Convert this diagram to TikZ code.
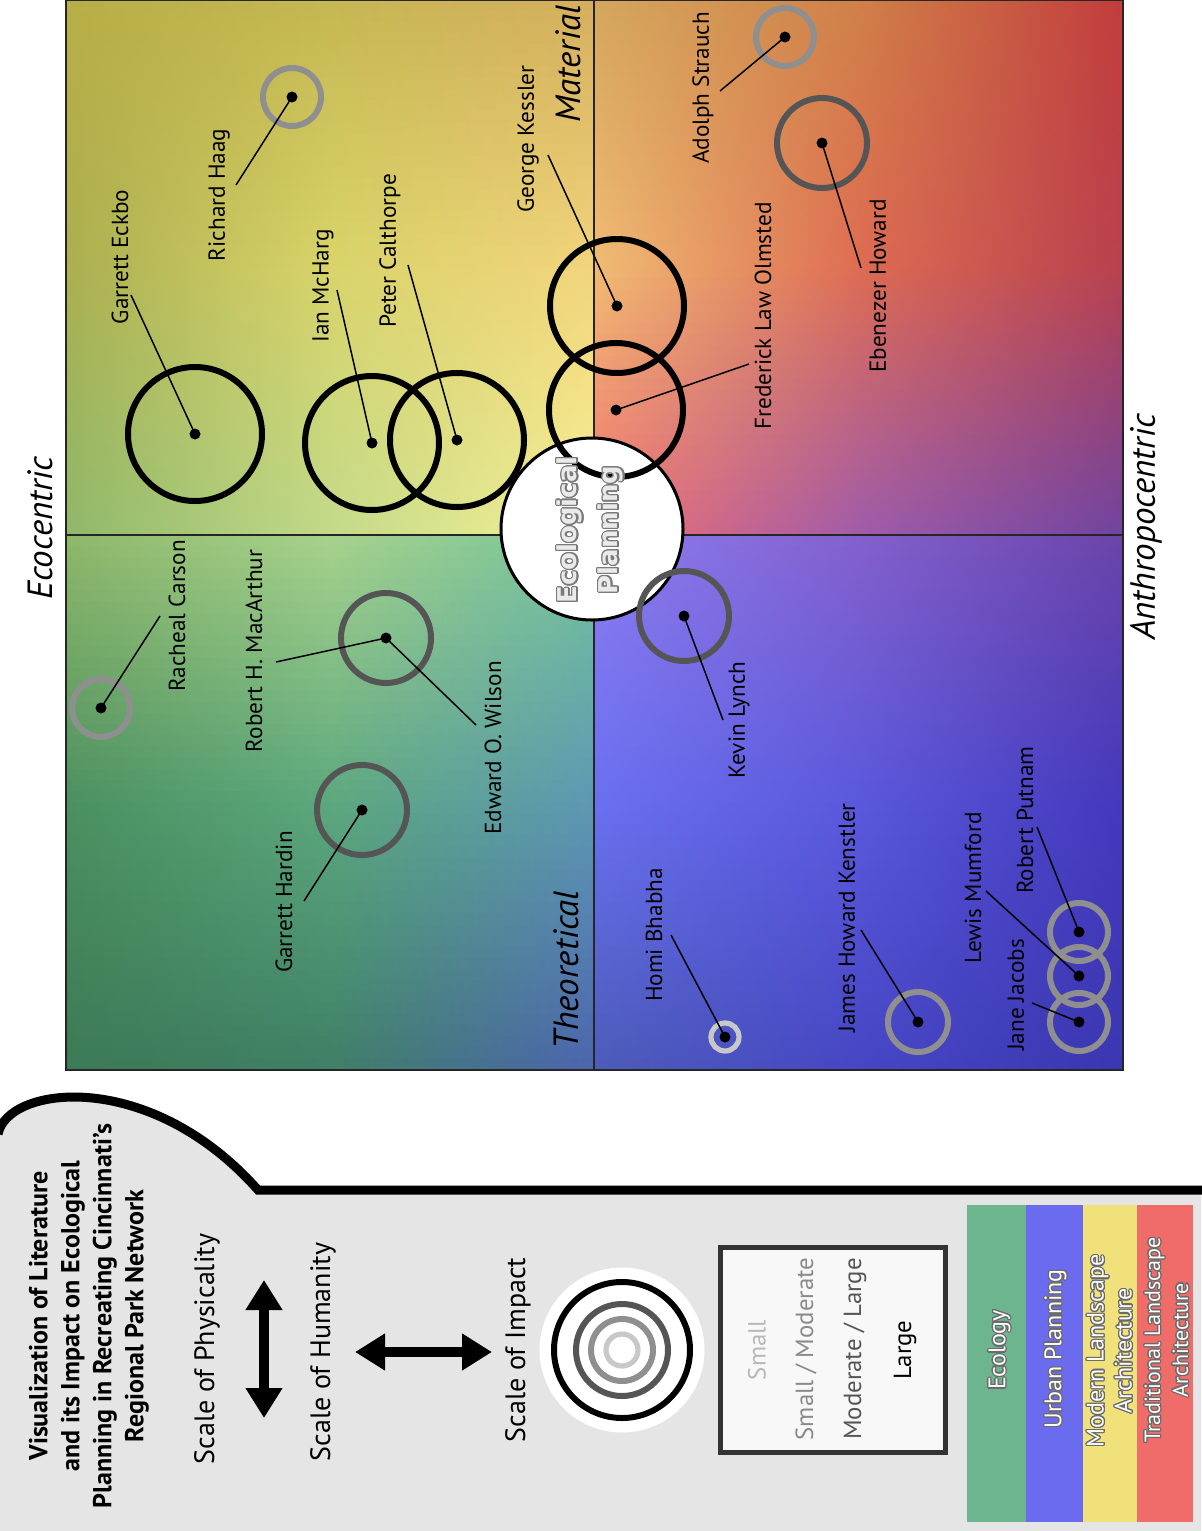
\documentclass[tikz,border=0pt]{standalone}
\usepackage{fontspec}
\setmainfont{PT Sans}
\newfontfamily\wideface{DejaVu Sans}
\usepackage{contour}
\contourlength{0.6pt}
\usetikzlibrary{arrows.meta}
% quadrant gradient control colours (rows a,b,c top->bottom; cols a,b,c left->right)
\definecolor{tlaa}{HTML}{B8AD46}\definecolor{tlab}{HTML}{C5B752}\definecolor{tlac}{HTML}{D6AE5E}
\definecolor{tlba}{HTML}{ABAF50}\definecolor{tlbb}{HTML}{D9D46A}\definecolor{tlbc}{HTML}{F2D47C}
\definecolor{tlca}{HTML}{8FB86A}\definecolor{tlcb}{HTML}{C2DA8A}\definecolor{tlcc}{HTML}{F8F296}
\definecolor{traa}{HTML}{D4A65C}\definecolor{trab}{HTML}{D08048}\definecolor{trac}{HTML}{C23C3C}
\definecolor{trba}{HTML}{F0BC74}\definecolor{trbb}{HTML}{DE6C52}\definecolor{trbc}{HTML}{B8404E}
\definecolor{trca}{HTML}{F27070}\definecolor{trcb}{HTML}{A05CAA}\definecolor{trcc}{HTML}{7044A0}
\definecolor{blaa}{HTML}{8FB86A}\definecolor{blab}{HTML}{A8D28C}\definecolor{blac}{HTML}{74C49C}
\definecolor{blba}{HTML}{4C9060}\definecolor{blbb}{HTML}{5CA87E}\definecolor{blbc}{HTML}{5E98B4}
\definecolor{blca}{HTML}{3C7A56}\definecolor{blcb}{HTML}{3F7F66}\definecolor{blcc}{HTML}{4C64B0}
\definecolor{braa}{HTML}{8C7CF0}\definecolor{brab}{HTML}{8460CC}\definecolor{brac}{HTML}{6A44A8}
\definecolor{brba}{HTML}{6A70F0}\definecolor{brbb}{HTML}{5A58DC}\definecolor{brbc}{HTML}{4438BC}
\definecolor{brca}{HTML}{4C5CB8}\definecolor{brcb}{HTML}{4646C4}\definecolor{brcc}{HTML}{3A36B0}
% other colours
\definecolor{ringml}{HTML}{555555}
\definecolor{ringsm}{HTML}{8F8F8F}
\definecolor{rings}{HTML}{C8C8C8}
\definecolor{panelgrey}{HTML}{E5E5E5}
\definecolor{boxfill}{HTML}{F8F8F8}
\definecolor{boxline}{HTML}{333333}
\definecolor{barEco}{HTML}{6DB58E}
\definecolor{barUrb}{HTML}{6B6BEF}
\definecolor{barMod}{HTML}{F0E17A}
\definecolor{barTra}{HTML}{F06C68}
\definecolor{ecotext}{HTML}{EAEAEA}
\definecolor{ecoline}{HTML}{7A7A7A}
\definecolor{barline}{HTML}{6A6A6A}
\definecolor{txtS}{HTML}{B8B8B8}
\definecolor{txtSM}{HTML}{8A8A8A}
\definecolor{txtML}{HTML}{555555}

\newcommand\quadfill[3]{%
  \foreach \ri/\rn/\rv in {a/b/0,b/c/1}{%
    \foreach \ci/\cn/\cv in {a/b/0,b/c/1}{%
      \foreach \k in {0,...,23}{%
        \pgfmathsetmacro\pw{100-(\k+0.5)*100/24}%
        \pgfmathsetmacro\xa{#1+\cv*264.25}%
        \pgfmathsetmacro\ya{#2+\rv*267.5+\k*267.5/24}%
        \shade[left color=#3\ri\ci!\pw!#3\rn\ci, right color=#3\ri\cn!\pw!#3\rn\cn]
          (\xa,\ya) rectangle ++(265.5,12.2);
      }}}}

\begin{document}
\begin{tikzpicture}[x=0.5pt,y=-0.5pt,
  lbl/.style={rotate=90, inner sep=0pt, font=\fontsize{11.6}{13}\selectfont},
  axislbl/.style={rotate=90, inner sep=0pt, font=\fontsize{17.5}{20}\selectfont\itshape},
  ringbase/.style={circle, inner sep=0pt, outer sep=0pt, line width=3pt},
  ringL/.style={ringbase, draw=black},
  ringML/.style={ringbase, draw=ringml},
  ringSM/.style={ringbase, draw=ringsm},
  ringS/.style={ringbase, draw=rings, line width=2.6pt},
  dot/.style={circle, fill=black, inner sep=0pt, outer sep=0pt, minimum size=5.5pt},
  leader/.style={line width=0.75pt, draw=black},
  divider/.style={line width=1pt, draw=black!85},
  legtxt/.style={rotate=90, inner sep=0pt, font=\fontsize{14}{17}\selectfont},
  boxtxt/.style={rotate=90, inner sep=0pt, font=\fontsize{12.4}{14}\selectfont},
  bartxt/.style={rotate=90, inner sep=0pt, align=center, text=white, font=\fontsize{12}{14}\selectfont},
  bigarrow/.style={line width=5pt, {Triangle[width=17.5pt,length=15pt]}-{Triangle[width=17.5pt,length=15pt]}}
]
\useasboundingbox (0,0) rectangle (1201,1531);

% ---------- chart background ----------
\begin{scope}
  \clip (66,0) rectangle (1123,1070);
  \quadfill{66}{0}{tl}
  \quadfill{594}{0}{tr}
  \quadfill{66}{535}{bl}
  \quadfill{594}{535}{br}
\end{scope}
\draw[divider] (594,0) -- (594,1070);
\draw[divider] (66,535) -- (1123,535);
\draw[line width=1pt, draw=black!85] (66,0) rectangle (1123,1070);

% central circle
\node[circle, draw=black, line width=1.5pt, fill=white, minimum size=91pt, inner sep=0pt] (eco) at (592,529) {};

% ---------- rings ----------
\node[ringL, minimum size=67pt] (eckbo-r) at (195,434) {};
\node[ringL, minimum size=67pt] (mcharg-r) at (372,443) {};
\node[ringL, minimum size=67pt] (calthorpe-r) at (457,440) {};
\node[ringL, minimum size=67pt] (kessler-r) at (617,306) {};
\node[ringL, minimum size=67pt] (olmsted-r) at (616,410) {};
\node[ringSM, minimum size=29pt] (haag-r) at (292,97) {};
\node[ringSM, minimum size=29pt] (strauch-r) at (785,37) {};
\node[ringML, minimum size=45pt] (howard-r) at (822,143) {};
\node[ringSM, minimum size=29pt] (carson-r) at (101,708) {};
\node[ringML, minimum size=45pt] (macarthur-r) at (386,638) {};
\node[ringML, minimum size=45pt] (hardin-r) at (362,810) {};
\node[ringML, minimum size=45pt] (lynch-r) at (684,616) {};
\node[ringS, minimum size=14pt] (bhabha-r) at (725,1037) {};
\node[ringSM, minimum size=30pt] (kenstler-r) at (918,1022) {};
\node[ringSM, minimum size=29pt] (putnam-r) at (1079,932) {};
\node[ringSM, minimum size=29pt] (mumford-r) at (1079,976) {};
\node[ringSM, minimum size=29pt] (jacobs-r) at (1079,1022) {};

% ---------- dots ----------
\node[dot] (eckbo) at (195,434) {};
\node[dot] (mcharg) at (372,443) {};
\node[dot] (calthorpe) at (457,440) {};
\node[dot] (kessler) at (617,306) {};
\node[dot] (olmsted) at (616,410) {};
\node[dot] (haag) at (292,97) {};
\node[dot] (strauch) at (785,37) {};
\node[dot] (howard) at (822,143) {};
\node[dot] (carson) at (101,708) {};
\node[dot] (macarthur) at (386,638) {};
\node[dot] (hardin) at (362,810) {};
\node[dot] (lynch) at (684,616) {};
\node[dot] (bhabha) at (725,1037) {};
\node[dot] (kenstler) at (918,1022) {};
\node[dot] (putnam) at (1079,932) {};
\node[dot] (mumford) at (1079,976) {};
\node[dot] (jacobs) at (1079,1022) {};

% ---------- leader ends ----------
\coordinate (eckbo-e) at (131,295);
\coordinate (haag-e) at (236,185);
\coordinate (mcharg-e) at (337,290);
\coordinate (calthorpe-e) at (408,265);
\coordinate (kessler-e) at (548,155);
\coordinate (strauch-e) at (720,91);
\coordinate (olmsted-e) at (749,364);
\coordinate (howard-e) at (861,268);
\coordinate (carson-e) at (160,616);
\coordinate (macarthur-e) at (276,662);
\coordinate (wilson-e) at (476,725);
\coordinate (hardin-e) at (304,901);
\coordinate (lynch-e) at (723,720);
\coordinate (bhabha-e) at (671,935);
\coordinate (kenstler-e) at (861,930);
\coordinate (putnam-e) at (1037,827);
\coordinate (mumford-e) at (986,891);
\coordinate (jacobs-e) at (1032,1003);

\foreach \n in {eckbo,haag,mcharg,calthorpe,kessler,strauch,olmsted,howard,carson,macarthur,hardin,lynch,bhabha,kenstler,putnam,mumford,jacobs}
  \draw[leader] (\n.center) -- (\n-e);
\draw[leader] (macarthur.center) -- (wilson-e);

% ---------- name labels ----------
\node[lbl] (eckbo-t) at (120,257) {Garrett Eckbo};
\node[lbl] (haag-t) at (219,195) {Richard Haag};
\node[lbl] (mcharg-t) at (323,286) {Ian McHarg};
\node[lbl] (calthorpe-t) at (390,251) {Peter Calthorpe};
\node[lbl] (kessler-t) at (528,139) {George Kessler};
\node[lbl] (strauch-t) at (703,88) {Adolph Strauch};
\node[lbl] (olmsted-t) at (763,316) {Frederick Law Olmsted};
\node[lbl] (howard-t) at (878,286) {Ebenezer Howard};
\node[lbl] (carson-t) at (177,616) {Racheal Carson};
\node[lbl] (macarthur-t) at (254,651) {Robert H. MacArthur};
\node[lbl] (wilson-t) at (493,748) {Edward O. Wilson};
\node[lbl] (hardin-t) at (284,902) {Garrett Hardin};
\node[lbl] (lynch-t) at (739,720) {Kevin Lynch};
\node[lbl] (bhabha-t) at (654,935) {Homi Bhabha};
\node[lbl] (kenstler-t) at (847,918) {James Howard Kenstler};
\node[lbl] (mumford-t) at (973,888) {Lewis Mumford};
\node[lbl] (putnam-t) at (1025,820) {Robert Putnam};
\node[lbl] (jacobs-t) at (1016,995) {Jane Jacobs};

% ---------- axis labels ----------
\node[axislbl] (ecocentric) at (40,528) {Ecocentric};
\node[axislbl] (anthro) at (1146,527) {Anthropocentric};
\node[axislbl] (material) at (568,64) {Material};
\node[axislbl] (theoretical) at (566,970) {Theoretical};

\node[rotate=90, inner sep=0pt, align=center, text=ecotext,
      font=\wideface\bfseries\fontsize{13}{20.5}\selectfont] (ecotxt) at (591,530)
  {\contour{ecoline}{Ecological}\\\contour{ecoline}{Planning}};

% ---------- legend panel ----------
\fill[panelgrey] (0,1131) .. controls (8,1085) and (150,1068) .. (258,1190)
  -- (1201,1190) -- (1201,1531) -- (0,1531) -- cycle;
\draw[line width=4.5pt] (-2,1134) .. controls (8,1085) and (150,1068) .. (258,1190) -- (1205,1190);

\node[rotate=90, inner sep=0pt, align=center, font=\bfseries\fontsize{13}{16}\selectfont] (title) at (89,1316)
  {Visualization of Literature\\and its Impact on Ecological\\Planning in Recreating Cincinnati’s\\Regional Park Network};

\node[legtxt] (phys) at (207,1349) {Scale of Physicality};
\node[legtxt] (hum) at (323,1352) {Scale of Humanity};
\node[legtxt] (impact) at (518,1350) {Scale of Impact};

\coordinate (va) at (264,1280);
\coordinate (vb) at (264,1418);
\coordinate (ha) at (355,1352);
\coordinate (hb) at (492,1352);
\draw[bigarrow] (va) -- (vb);
\draw[bigarrow] (ha) -- (hb);

% concentric legend circles
\node[circle, fill=white, minimum size=82.5pt, inner sep=0pt] (disc) at (622,1350) {};
\node[ringL, minimum size=68pt] (legL) at (622,1350) {};
\node[ringML, minimum size=46pt] (legML) at (622,1350) {};
\node[ringSM, minimum size=31pt] (legSM) at (622,1350) {};
\node[ringS, minimum size=16pt] (legS) at (622,1350) {};

% impact box
\node[draw=boxline, line width=2.5pt, fill=boxfill, minimum width=112.5pt, minimum height=102.5pt, inner sep=0pt] (box) at (833,1350) {};
\node[boxtxt, text=txtS] (bS) at (757,1350) {Small};
\node[boxtxt, text=txtSM] (bSM) at (806,1349) {Small / Moderate};
\node[boxtxt, text=txtML] (bML) at (855,1349) {Moderate / Large};
\node[boxtxt, text=black] (bL) at (905,1350) {Large};

% discipline bars
\fill[barEco] (967,1205) rectangle (1026,1522);
\fill[barUrb] (1026,1205) rectangle (1083,1522);
\fill[barMod] (1083,1205) rectangle (1137,1522);
\fill[barTra] (1137,1205) rectangle (1193,1522);
\node[bartxt] (eco-b) at (1000,1350) {\contour{barline}{Ecology}};
\node[bartxt] (urb-b) at (1056,1349) {\contour{barline}{Urban Planning}};
\node[bartxt] (mod-b) at (1110,1351) {\contour{barline}{Modern Landscape}\\\contour{barline}{Architecture}};
\node[bartxt, font=\fontsize{11}{14}\selectfont] (tra-b) at (1167,1340) {\contour{barline}{Traditional Landscape}\\\contour{barline}{Architecture}};
\end{tikzpicture}
\end{document}
